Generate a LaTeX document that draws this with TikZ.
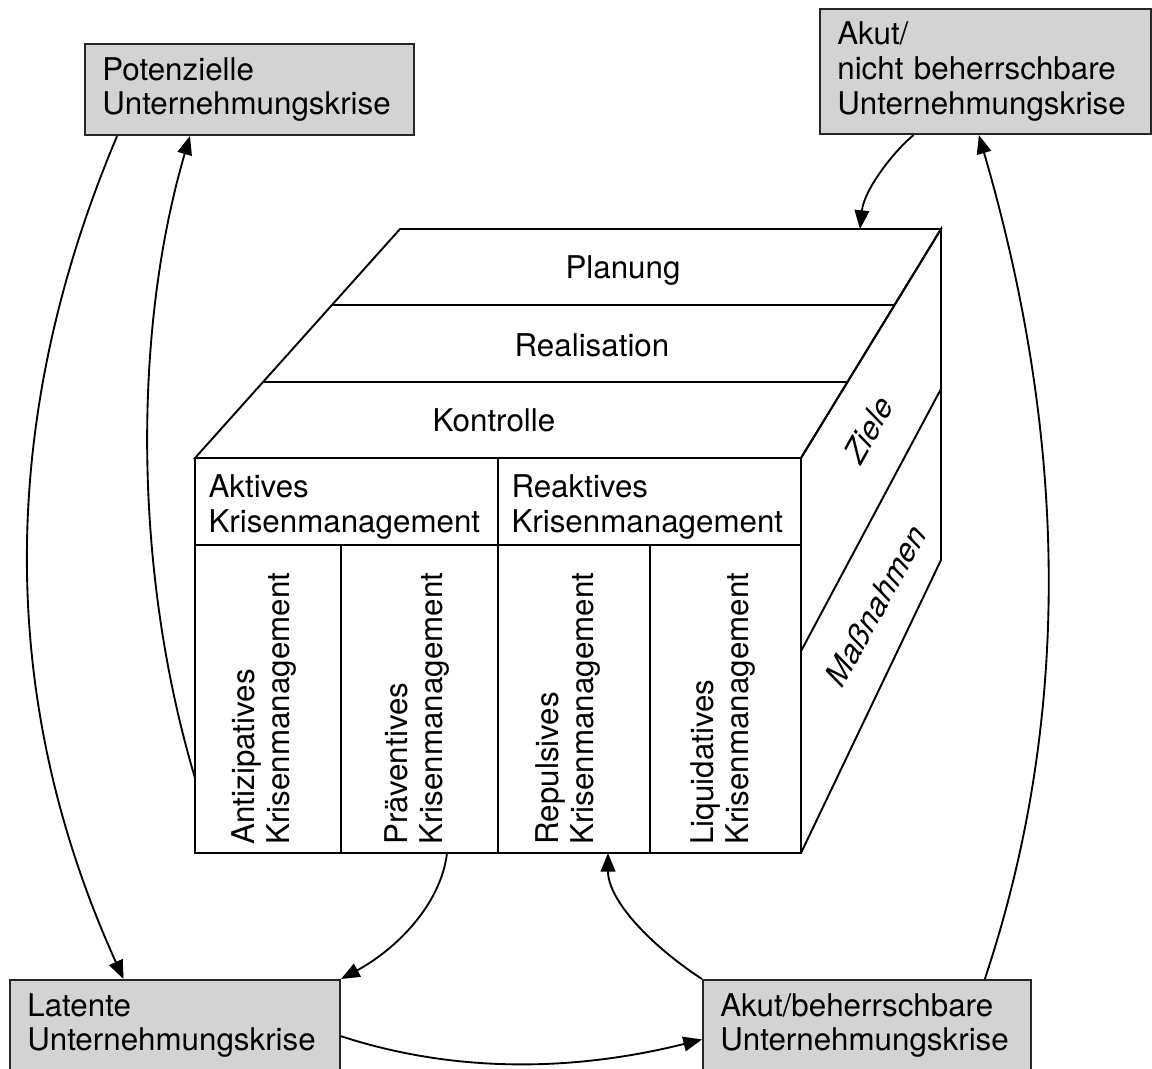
\documentclass[tikz,border=0pt]{standalone}
\usepackage{fontspec}
\setmainfont{TeX Gyre Heros}
\usetikzlibrary{arrows.meta,calc}

\definecolor{boxgrey}{RGB}{211,211,211}
\newcommand{\dfont}{\fontsize{23.5}{26}\selectfont}

\tikzset{every picture/.style={line width=0.75pt}}
\tikzset{
	krise/.style={draw=black!85, fill=boxgrey, line width=1.5pt, anchor=north west, align=left, font=\dfont, inner xsep=13pt, inner ysep=0pt},
	wuerfel/.style={line width=1.45pt, line join=miter},
	beschr/.style={font=\dfont, inner sep=0pt},
	spalte/.style={beschr, rotate=90, anchor=west, align=left},
	seite/.style={beschr, rotate=61, xslant=0.3},
	pfeil/.style={line width=1.4pt, -{Triangle[length=14pt,width=11pt]}}}

\begin{document}
\begin{tikzpicture}[x=0.75pt,y=0.75pt,yscale=-1,xscale=1]
	\useasboundingbox (0,0) rectangle (1152,1068);

	% Krisen boxes
	\node [krise, text width=220.75pt, minimum height=68.25pt] (pot) at (84,43) {Potenzielle\\Unternehmungskrise};
	\node [krise, text width=222.25pt, minimum height=93.75pt] (akutn) at (819,8) {Akut/\\nicht beherrschbare\\Unternehmungskrise};
	\node [krise, text width=221.5pt, minimum height=68.25pt] (latent) at (9,979) {Latente\\Unternehmungskrise};
	\node [krise, text width=220pt, minimum height=68.25pt] (akutb) at (702,979) {Akut/beherrschbare\\Unternehmungskrise};

	% Cube corners
	\coordinate (F1) at (195,458);
	\coordinate (F2) at (801,458);
	\coordinate (F3) at (801,853);
	\coordinate (F4) at (195,853);
	\coordinate (B1) at (400,229);
	\coordinate (B2) at (941,229);
	\coordinate (B3) at (941,560);

	%Top face
	\draw [wuerfel] (F1) -- (B1) -- (B2) -- (F2) -- cycle ;
	\draw [wuerfel] ($(B1)!0.333!(F1)$) -- ($(B2)!0.333!(F2)$) ;
	\draw [wuerfel] ($(B1)!0.667!(F1)$) -- ($(B2)!0.667!(F2)$) ;
	%Right face
	\draw [wuerfel] (F2) -- (B2) -- (B3) -- (F3) ;
	\draw [wuerfel] ($(F2)!0.489!(F3)$) -- ($(B2)!0.483!(B3)$) ;
	%Front face
	\draw [wuerfel] (F1) -- (F2) -- (F3) -- (F4) -- cycle ;
	\draw [wuerfel] (498,458) -- (498,853) ;
	\draw [wuerfel] (195,545) -- (801,545) ;
	\draw [wuerfel] (341,545) -- (341,853) ;
	\draw [wuerfel] (650,545) -- (650,853) ;

	% Text Node
	\node [beschr, anchor=base] (plan) at (623,278) {Planung};
	\node [beschr, anchor=base] (real) at (592,356) {Realisation};
	\node [beschr, anchor=base] (kontr) at (494,431) {Kontrolle};
	% Text Node
	\node [beschr, anchor=north west, align=left] (aktiv) at (208,474.5) {Aktives\\Krisenmanagement};
	\node [beschr, anchor=north west, align=left] (reakt) at (511,474.5) {Reaktives\\Krisenmanagement};
	% Text Node
	\node [spalte] (anti) at (264,845) {Antizipatives\\Krisenmanagement};
	\node [spalte] (praev) at (417,845) {Präventives\\Krisenmanagement};
	\node [spalte] (repul) at (568,845) {Repulsives\\Krisenmanagement};
	\node [spalte] (liqui) at (723,845) {Liquidatives\\Krisenmanagement};
	% Text Node
	\node [seite] (ziele) at (869,429) {Ziele};
	\node [seite] (massn) at (876,605) {Maßnahmen};

	% Arrows
	\coordinate (a1) at ($(pot.south west)!0.10!(pot.south east)$);
	\coordinate (a2) at ($(latent.north west)!0.345!(latent.north east)$);
	\draw [pfeil] (a1) .. controls (-3,420) and (-3,700) .. (a2) ;

	\coordinate (b1) at (195,778);
	\coordinate (b2) at ($(pot.south west)!0.32!(pot.south east)$);
	\draw [pfeil] (b1) .. controls (133,570) and (133,330) .. (b2) ;

	\coordinate (c1) at ($(akutn.south west)!0.284!(akutn.south east)$);
	\coordinate (c2) at (860,229);
	\draw [pfeil] (c1) .. controls (893,152) and (864,190) .. (c2) ;

	\coordinate (d1) at ($(akutb.north west)!0.857!(akutb.north east)$);
	\coordinate (d2) at ($(akutn.south west)!0.48!(akutn.south east)$);
	\draw [pfeil] (d1) .. controls (1078,700) and (1062,420) .. (d2) ;

	\coordinate (e1) at (447,853);
	\draw [pfeil] (e1) .. controls (441,905) and (395,950) .. (latent.north east) ;

	\coordinate (f2) at (608,853);
	\draw [pfeil] (akutb.north west) .. controls (650,945) and (608,900) .. (f2) ;

	\coordinate (g1) at ($(latent.north east)!0.615!(latent.south east)$);
	\coordinate (g2) at ($(akutb.north west)!0.65!(akutb.south west)$);
	\draw [pfeil] (g1) .. controls (460,1075) and (580,1070) .. (g2) ;

\end{tikzpicture}
\end{document}
